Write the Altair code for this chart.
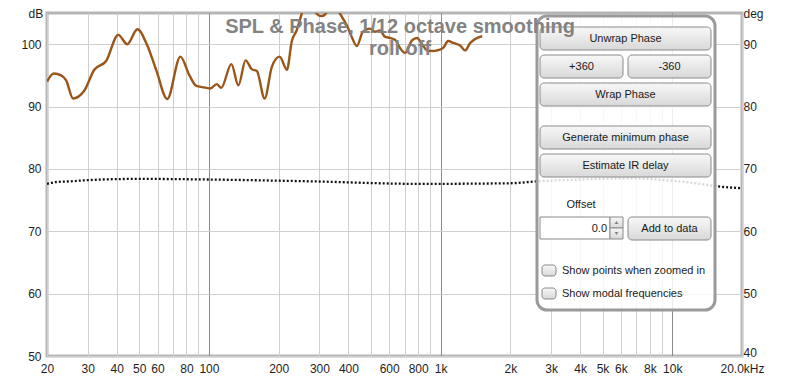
import altair as alt
import pandas as pd

# ---------------- data ----------------
spl_freq = [20, 21.4, 23, 24.2, 25.9, 28.9, 32, 36, 40.6, 44.4, 49.1, 54.2, 59.3, 66.1,
            75.3, 82.4, 88.3, 97.6, 101.5, 108, 113, 125, 134, 144, 153, 161, 174, 187,
            202, 217, 228, 239, 255, 270, 290, 305, 318, 335, 355, 372, 394, 413, 435,
            462, 495, 521, 547, 575, 605, 636, 668, 702, 753, 791, 832, 874, 919, 966,
            1026, 1078, 1133, 1214, 1276, 1342, 1438, 1513]
spl_db = [94.0, 95.3, 95.0, 94.2, 91.3, 92.5, 95.9, 97.3, 101.5, 100.0, 102.4, 99.8, 95.8, 91.2,
          98.0, 95.0, 93.3, 93.0, 92.9, 93.6, 93.0, 96.8, 93.4, 97.4, 96.0, 95.7, 91.3, 96.4,
          98.0, 95.9, 100.5, 102.2, 105.5, 107.0, 105.0, 104.5, 104.8, 106.3, 105.8, 104.6, 103.0, 101.2, 99.7,
          102.0, 102.5, 102.0, 102.2, 101.2, 101.0, 100.7, 99.4, 98.6, 100.6, 101.0, 100.0, 99.0, 98.9, 99.0,
          99.4, 100.5, 100.2, 99.8, 99.0, 100.2, 101.0, 101.3]

phase_freq = [20, 22, 25, 30, 50, 100, 280, 815, 2000, 2600, 4000, 6600, 10000, 13300, 15750, 20000]
phase_deg = [67.6, 67.9, 68.0, 68.2, 68.4, 68.3, 68.0, 67.6, 67.7, 68.0, 68.3, 68.5, 68.1, 67.6, 67.2, 66.9]

grid_freqs = [20, 30, 40, 50, 60, 70, 80, 90, 100, 200, 300, 400, 500, 600, 700, 800, 900,
              1000, 2000, 3000, 4000, 5000, 6000, 7000, 8000, 9000, 10000, 20000]
db_ticks = [50, 60, 70, 80, 90, 100]
deg_ticks = [40, 50, 60, 70, 80, 90]

title_lines = ["SPL & Phase, 1/12 octave smoothing", "roll off"]
button_labels = ["Unwrap Phase", "+360", "-360", "Wrap Phase", "Generate minimum phase",
                 "Estimate IR delay", "Add to data"]
offset_label = "Offset"
offset_value = "0.0"
check_labels = ["Show points when zoomed in", "Show modal frequencies"]

# ---------------- layout (pixels inside the plot area) ----------------
W, H = 695, 343
button_boxes = [(493, 664, 14, 37), (493, 576, 42, 65), (581, 664, 42, 65), (493, 664, 70, 93),
                (493, 664, 113, 136), (493, 664, 141, 164), (581, 664, 204, 227)]
check_boxes = [(495, 509, 252, 263), (495, 509, 275, 286)]

FONT = "Liberation Sans"
spl_df = pd.DataFrame({"freq": spl_freq, "db": spl_db})
phase_df = pd.DataFrame({"freq": phase_freq, "deg": phase_deg})
one = pd.DataFrame({"a": [0]})

label_expr = ("datum.value == 20000 ? '20.0kHz' : "
              "indexof([70, 90, 500, 700, 900, 7000, 9000], datum.value) >= 0 ? '' : "
              "datum.value >= 1000 ? (datum.value / 1000) + 'k' : datum.value + ''")

x_enc = alt.X(
    "freq:Q",
    scale=alt.Scale(type="log", domain=[20, 20000], nice=False),
    axis=alt.Axis(values=grid_freqs, labelExpr=label_expr, grid=True,
                  gridColor=alt.condition("datum.value == 100 || datum.value == 1000 || datum.value == 10000",
                                          alt.value("#8c8c8c"), alt.value("#cfcfcf")),
                  ticks=False, domain=False, labelPadding=7, title=None, labelFlush=False,
                  labelFont=FONT, labelFontSize=12, labelColor="#1e1e1e", labelOverlap=False),
)

spl = alt.Chart(spl_df).mark_line(color="#9a5518", strokeWidth=2.4, interpolate="monotone", clip=True).encode(
    x=x_enc,
    y=alt.Y("db:Q", scale=alt.Scale(domain=[50, 105], nice=False, zero=False),
            axis=alt.Axis(orient="left", values=db_ticks, grid=True, gridColor="#cfcfcf", ticks=False,
                          domain=False, labelPadding=6, labelFont=FONT, labelFontSize=12,
                          labelColor="#1e1e1e", title="dB", titleAngle=0, titleAlign="left",
                          titleBaseline="alphabetic", titleX=-19, titleY=4, titleFont=FONT,
                          titleFontSize=12, titleFontWeight="normal", titleColor="#1e1e1e")),
)

phase = alt.Chart(phase_df).mark_line(color="#111111", strokeWidth=2.3, strokeDash=[2, 2],
                                      interpolate="monotone", clip=True).encode(
    x=x_enc,
    y=alt.Y("deg:Q", scale=alt.Scale(domain=[40, 95], nice=False, zero=False),
            axis=alt.Axis(orient="right", values=deg_ticks, grid=False, ticks=False, domain=False,
                          labelPadding=1, labelFont=FONT, labelFontSize=12, labelColor="#1e1e1e",
                          labelOffset=alt.condition("datum.value == 40", alt.value(-4), alt.value(0)),
                          title="deg", titleAngle=0, titleAlign="left", titleBaseline="alphabetic",
                          titleX=1, titleY=4, titleFont=FONT, titleFontSize=12,
                          titleFontWeight="normal", titleColor="#1e1e1e")),
)

layers = [spl, phase]

# panel
layers.append(alt.Chart(one).mark_rect(fill="white", fillOpacity=0.83, stroke="#9a9a9a", strokeWidth=3,
                                       cornerRadius=10).encode(
    x=alt.value(490), x2=alt.value(668), y=alt.value(3), y2=alt.value(297)))

grad = alt.LinearGradient(gradient="linear",
                          stops=[alt.GradientStop(offset=0, color="#f8f8f8"),
                                 alt.GradientStop(offset=1, color="#d8d8d8")],
                          x1=0, x2=0, y1=0, y2=1)

for lab, (x0, x1, y0, y1) in zip(button_labels, button_boxes):
    layers.append(alt.Chart(one).mark_rect(fill=grad, stroke="#8a8a8a", strokeWidth=1, cornerRadius=4).encode(
        x=alt.value(x0), x2=alt.value(x1), y=alt.value(y0), y2=alt.value(y1)))
    layers.append(alt.Chart(one).mark_text(text=lab, font=FONT, fontSize=11, color="#1a1a1a",
                                           align="center", baseline="middle").encode(
        x=alt.value((x0 + x1) / 2), y=alt.value((y0 + y1) / 2 + 0.5)))

# offset text field + spinner
layers.append(alt.Chart(one).mark_text(text=offset_label, font=FONT, fontSize=11, color="#1a1a1a",
                                       align="center", baseline="middle").encode(
    x=alt.value(534), y=alt.value(192)))
layers.append(alt.Chart(one).mark_rect(fill="white", stroke="#8a8a8a", strokeWidth=1).encode(
    x=alt.value(493), x2=alt.value(563), y=alt.value(204), y2=alt.value(226)))
layers.append(alt.Chart(one).mark_text(text=offset_value, font=FONT, fontSize=11, color="#1a1a1a",
                                       align="right", baseline="middle").encode(
    x=alt.value(560), y=alt.value(215.5)))
layers.append(alt.Chart(one).mark_rect(fill=grad, stroke="#8a8a8a", strokeWidth=1).encode(
    x=alt.value(563), x2=alt.value(576), y=alt.value(204), y2=alt.value(215)))
layers.append(alt.Chart(one).mark_rect(fill=grad, stroke="#8a8a8a", strokeWidth=1).encode(
    x=alt.value(563), x2=alt.value(576), y=alt.value(215), y2=alt.value(226)))
layers.append(alt.Chart(one).mark_point(shape="triangle-up", filled=True, color="#555555", size=14).encode(
    x=alt.value(569.5), y=alt.value(209.5)))
layers.append(alt.Chart(one).mark_point(shape="triangle-down", filled=True, color="#555555", size=14).encode(
    x=alt.value(569.5), y=alt.value(220.5)))

# checkboxes
for lab, (x0, x1, y0, y1) in zip(check_labels, check_boxes):
    layers.append(alt.Chart(one).mark_rect(fill=grad, stroke="#8a8a8a", strokeWidth=1, cornerRadius=3).encode(
        x=alt.value(x0), x2=alt.value(x1), y=alt.value(y0), y2=alt.value(y1)))
    layers.append(alt.Chart(one).mark_text(text=lab, font=FONT, fontSize=11, color="#1a1a1a",
                                           align="left", baseline="middle").encode(
        x=alt.value(515), y=alt.value((y0 + y1) / 2 + 0.5)))

# title on top
for lab, yy in zip(title_lines, [20, 42]):
    layers.append(alt.Chart(one).mark_text(text=lab, font=FONT, fontSize=20, fontWeight="bold",
                                           color="#838383", align="center", baseline="alphabetic").encode(
        x=alt.value(353), y=alt.value(yy)))

chart = alt.layer(*layers).resolve_scale(y="independent").properties(
    width=W, height=H,
    padding={"left": 39, "top": 5, "right": 45, "bottom": 18},
    autosize=alt.AutoSizeParams(type="none"),
    background="white",
).configure_view(stroke="#b5b5b5", strokeWidth=3)

chart.save("out.html", embed_options={"renderer": "svg", "actions": False})
